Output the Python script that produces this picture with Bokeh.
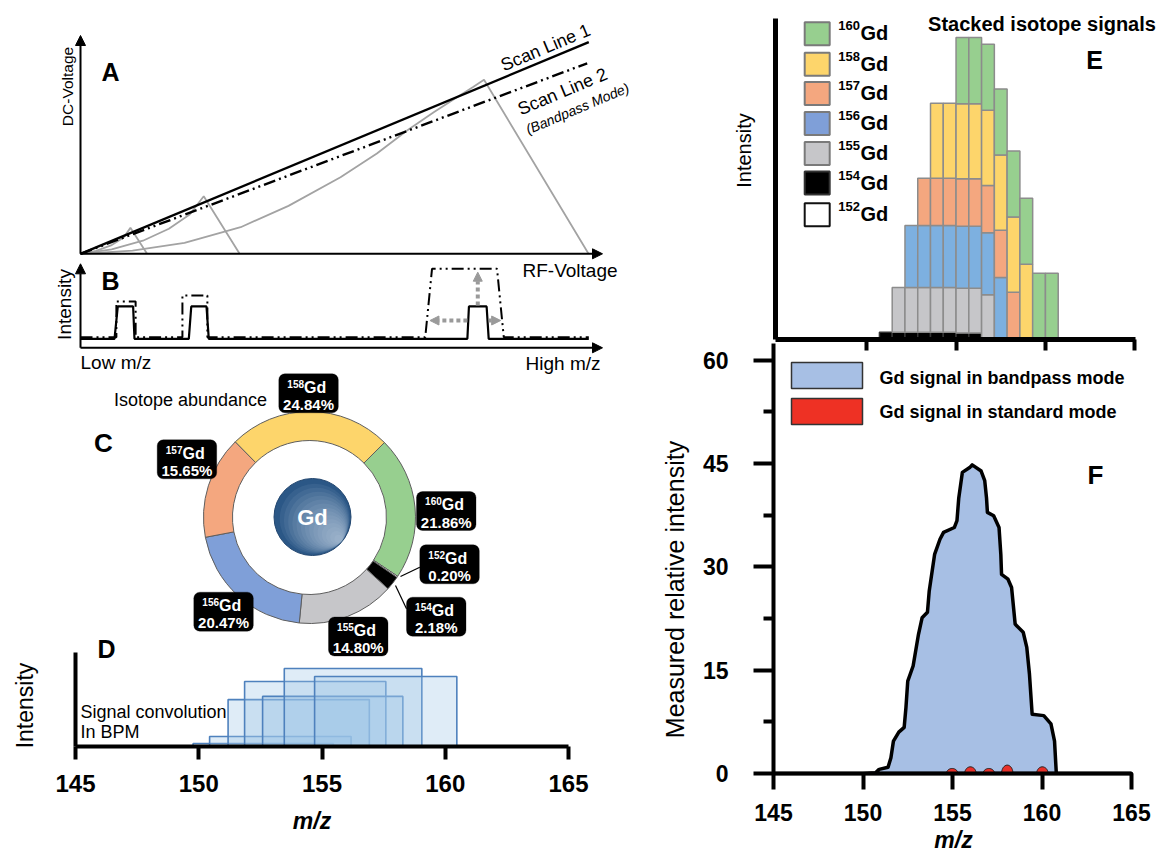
import numpy as np
from bokeh.plotting import figure
from bokeh.layouts import row
from bokeh.models import (Range1d, FixedTicker, Label, Arrow, NormalHead, BoxAnnotation,
                          LinearAxis)
from bokeh.embed import file_html
from bokeh.resources import INLINE

FONT = "Liberation Sans"

# ---------------- data ----------------
iso_label = ["152", "154", "155", "156", "157", "158", "160"]
iso_mass = [152, 154, 155, 156, 157, 158, 160]
iso_abund = [0.20, 2.18, 14.80, 20.47, 15.65, 24.84, 21.86]
ring_color = ["#FFFFFF", "#000000", "#C6C6C9", "#7F9FD8", "#F4A77F", "#FDD56B", "#97CF8F"]
bar_color = ["#FFFFFF", "#000000", "#C6C6C9", "#7DB0E0", "#F4A77F", "#FDD56B", "#97CF8F"]
ring_order = ["160", "152", "154", "155", "156", "157", "158"]   # clockwise from 45 deg

# Panel A (RF-voltage vs DC-voltage, schematic units 0-100)
scan1_x = [0, 97.75]
scan1_y = [0, 97.1]
scan2_x = [0, 97.44]
scan2_y = [0, 87.4]
stab_big_x = [0, 10, 20, 30.8, 40, 50, 57, 62.8, 68, 72.4, 75.5, 77.6, 97.7]
stab_big_y = [0, 1.5, 5.0, 12.2, 22, 35.1, 46, 56.6, 65, 71.8, 76.5, 79.8, 0]
stab_mid_x = [0, 6, 12, 17, 21, 23.7, 30.6]
stab_mid_y = [0, 2, 6, 11.5, 18, 26.4, 0]
stab_small_x = [0, 3, 6, 8.3, 9.6, 12.8]
stab_small_y = [0, 1.3, 4, 7.5, 11.9, 0]

# Panel B (m/z axis schematic 0-100, intensity 0-100)
b_std_x = [0, 6.54, 7.17, 10.12, 10.38, 20.83, 21.3, 24.23, 24.67, 74.4, 74.7, 78.1, 78.5, 97.75]
b_std_y = [10.7, 10.7, 49.2, 49.2, 10.7, 10.7, 49.2, 49.2, 10.7, 10.7, 49.2, 49.2, 10.7, 10.7]
b_bpm_x = [0, 6.9, 6.9, 10.6, 10.6, 19.6, 19.6, 24.4, 24.4, 66.3, 67.6, 80.1, 81.4, 97.75]
b_bpm_y = [12.6, 12.6, 55.1, 55.1, 12.6, 12.6, 62.3, 62.3, 12.6, 12.6, 94, 94, 12.6, 12.6]

# Panel D (bandpass windows of each isotope)
d_left = [149.77, 150.44, 151.19, 151.86, 152.59, 153.47, 154.70]
d_right = [155.46, 156.18, 156.92, 157.59, 158.28, 159.05, 160.47]
d_height = [0.95, 3.15, 14.8, 20.5, 15.8, 24.6, 22.1]
d_xticks = [145, 150, 155, 160, 165]

# Panel E (stacked channels, each isotope spans 8 channels)
e_start = [148, 150, 151, 152, 153, 154, 156]
e_span = 8
e_ticks = [149, 156, 163, 170]

# Panel F
f_x = [145, 150.0, 150.7, 150.9, 151.4, 151.56, 151.7, 152.0, 152.3, 152.4, 152.5, 152.8,
       153.1, 153.3, 153.6, 153.7, 154.0, 154.3, 154.5, 155.1, 155.25, 155.35, 155.55,
       155.96, 156.1, 156.6, 156.8, 156.9, 156.95, 157.3, 157.6, 157.7, 157.74, 158.1,
       158.3, 158.5, 158.6, 158.95, 159.15, 159.3, 159.45, 160.1, 160.5, 160.7, 160.8, 165]
f_y = [0, 0, 0.1, 0.6, 0.9, 2.3, 4.7, 6.0, 6.7, 9.6, 13.4, 15.6,
       20.2, 22.6, 23.4, 26.5, 31.8, 34.0, 35.0, 35.7, 36.7, 40.0, 43.7,
       44.4, 44.8, 43.9, 42.5, 40.0, 37.9, 37.4, 35.7, 31.8, 28.9, 28.2,
       27.0, 21.7, 21.4, 20.5, 18.3, 14.4, 8.6, 8.4, 7.2, 4.7, 0, 0]
red_x = [154.98, 156.0, 157.03, 158.06, 160.02]
red_h = [0.73, 0.97, 0.73, 1.22, 0.97]
f_xticks = [145, 150, 155, 160, 165]
f_yticks = [0, 15, 30, 45, 60]
f_yminor = [7.5, 22.5, 37.5, 52.5]


# ---------------- helpers ----------------
def base_fig(w, h, xr, yr, xloc=None, yloc=None):
    p = figure(width=w, height=h, x_range=xr, y_range=yr, output_backend="svg",
               toolbar_location=None, x_axis_location=xloc, y_axis_location=yloc,
               min_border=0)
    p.outline_line_color = None
    for g in p.grid:
        g.visible = False
    p.background_fill_color = "white"
    p.border_fill_color = "white"
    return p


def lab(p, x, y, text, size, style="normal", color="black", align="center",
        baseline="middle", angle=0.0):
    p.add_layout(Label(x=x, y=y, text=text, x_range_name="px", y_range_name="py",
                       text_font=FONT, text_font_size=f"{size}px", text_font_style=style,
                       text_color=color, text_align=align, text_baseline=baseline,
                       angle=angle))


def arrow(p, x0, y0, x1, y1, yname, color="black", width=2, dash="solid", size=10):
    p.add_layout(Arrow(end=NormalHead(size=size, fill_color=color, line_color=color),
                       x_start=x0, y_start=y0, x_end=x1, y_end=y1, line_color=color,
                       line_width=width, line_dash=dash, x_range_name="ax",
                       y_range_name=yname))


def style_axis(ax, lw, tick_out, size, standoff, loc, bounds, labels=True):
    ax.fixed_location = loc
    ax.bounds = bounds
    ax.axis_line_width = lw
    ax.axis_line_color = "black"
    ax.major_tick_line_width = lw
    ax.major_tick_line_color = "black"
    ax.major_tick_out = tick_out
    ax.major_tick_in = 0
    ax.minor_tick_line_color = None
    ax.major_label_text_font = FONT
    ax.major_label_text_font_style = "bold"
    ax.major_label_text_color = "black" if labels else None
    ax.major_label_text_font_size = f"{size}px"
    ax.major_label_standoff = standoff


# ================= Left column: panels A, B, C, D  (canvas 640 x 854) =================
def u(px):
    return (px - 80) / 5.2


def dc(py):
    return (253.3 - py) / 2.18


def bi(py):
    return (347.3 - py) / 0.84


def dm(px):
    return 145 + (px - 75) / 24.65


def di(py):
    return (746 - py) / 3.17


pL = base_fig(640, 854, Range1d(dm(0), dm(640)), Range1d(di(854), di(0)),
              xloc="below", yloc="left")
pL.extra_x_ranges = {"px": Range1d(0, 640), "ax": Range1d(u(0), u(640)),
                     "cx": Range1d(0 - 309, 640 - 309)}
pL.extra_y_ranges = {"py": Range1d(854, 0), "ay": Range1d(dc(854), dc(0)),
                     "b": Range1d(bi(854), bi(0)), "cy": Range1d(517 - 854, 517 - 0)}

# ---- A ----
gray = "#A3A3A3"
for xs, ys in [(stab_big_x, stab_big_y), (stab_mid_x, stab_mid_y), (stab_small_x, stab_small_y)]:
    pL.line(xs, ys, line_color=gray, line_width=1.8, x_range_name="ax", y_range_name="ay")
pL.line(scan2_x, scan2_y, line_color="black", line_width=2.4, line_dash="12 4 2 4 2 4",
        x_range_name="ax", y_range_name="ay")
pL.line(scan1_x, scan1_y, line_color="black", line_width=2.4,
        x_range_name="ax", y_range_name="ay")
arrow(pL, 0, 0, u(602), 0, "ay")
arrow(pL, 0, 0, 0, dc(35), "ay")

# ---- B ----
pL.line(b_bpm_x, b_bpm_y, line_color="black", line_width=2, line_dash="12 4 2 4 2 4",
        x_range_name="ax", y_range_name="b")
pL.line(b_std_x, b_std_y, line_color="black", line_width=2.2,
        x_range_name="ax", y_range_name="b")
arrow(pL, 0, 0, u(602), 0, "b")
arrow(pL, 0, 0, 0, 100, "b")
ag = "#9A9A9A"
arrow(pL, 76.4, 50.4, 76.4, 90, "b", color=ag, width=4, dash="4 3", size=9)
arrow(pL, 74.4, 32.5, 67.2, 32.5, "b", color=ag, width=4, dash="4 3", size=9)
arrow(pL, 78.5, 32.5, 80.8, 32.5, "b", color=ag, width=4, dash="4 3", size=9)

lab(pL, 110, 71, "A", 25, "bold")
lab(pL, 66.5, 86, "DC-Voltage", 15.5, angle=np.pi / 2)
lab(pL, 569.5, 269.5, "RF-Voltage", 19)
lab(pL, 545, 47, "Scan Line 1", 18, angle=0.40)
lab(pL, 562, 91, "Scan Line 2", 18, angle=0.40)
lab(pL, 577, 108, "(Bandpass Mode)", 14, "italic", angle=0.40)
lab(pL, 110, 280, "B", 25, "bold")
lab(pL, 63.5, 304, "Intensity", 19, angle=np.pi / 2)
lab(pL, 80, 362, "Low m/z", 19, align="left")
lab(pL, 600, 363, "High m/z", 19, align="right")

# ---- D axes ----
xd = pL.xaxis[0]
style_axis(xd, 4, 13, 24, 15, 0, (145, 165))
xd.ticker = FixedTicker(ticks=d_xticks)
yd = pL.yaxis[0]
style_axis(yd, 4, 0, 12, 0, 145, (0, di(652)), labels=False)
yd.ticker = FixedTicker(ticks=[])

pL.quad(left=d_left, right=d_right, bottom=0, top=d_height, fill_color="#9DC3E6",
        fill_alpha=0.32, line_color="#4E81BD", line_width=1.6)

# ---- C donut ----
ring_ab = [iso_abund[iso_label.index(k)] for k in ring_order]
ring_col = [ring_color[iso_label.index(k)] for k in ring_order]
starts, ends = [], []
a = np.pi / 4
for v in ring_ab:
    starts.append(a)
    a -= v / 100 * 2 * np.pi
    ends.append(a)
pL.annular_wedge(x=0, y=0, inner_radius=77, outer_radius=106, start_angle=starts,
                 end_angle=ends, direction="clock", fill_color=ring_col,
                 line_color="#5E5E5E", line_width=1, x_range_name="cx", y_range_name="cy")
bx0, by0, R = 3, 0.5, 38.5
pL.circle(x=bx0, y=by0, radius=R, fill_color="#2B5786", line_color="#234770", line_width=1,
          x_range_name="cx", y_range_name="cy")
dvec = np.array([np.cos(-0.7), np.sin(-0.7)])
for r in np.linspace(35, 4, 14):
    cxy = np.array([bx0, by0]) + (R - r - 0.6) * dvec
    pL.circle(x=cxy[0], y=cxy[1], radius=r, fill_color="#DCE7F3", fill_alpha=0.075,
              line_color=None, x_range_name="cx", y_range_name="cy")

pL.line([419.3, 400], [566.7, 576], line_color="black", line_width=1.2,
        x_range_name="px", y_range_name="py")
pL.line([406, 395], [608.3, 585], line_color="black", line_width=1.2,
        x_range_name="px", y_range_name="py")

box_pos = {"158": (278.3, 373.3), "157": (156.7, 439.3), "160": (416, 491),
           "152": (419.3, 544.3), "154": (406, 596.7), "156": (193.3, 591.7),
           "155": (328, 616.5)}
BW, BH = 59.5, 39
for k, (bx, by) in box_pos.items():
    pL.add_layout(BoxAnnotation(left=bx, right=bx + BW, top=by, bottom=by + BH,
                                x_range_name="px", y_range_name="py", fill_color="black",
                                fill_alpha=1, line_color="black", border_radius=6))
for k, (bx, by) in box_pos.items():
    ab = iso_abund[iso_label.index(k)]
    cx = bx + BW / 2 - 4.5
    lab(pL, cx, by + 9.7, k, 10, "bold", "white", align="right")
    lab(pL, cx, by + 13.2, "Gd", 16, "bold", "white", align="left")
    lab(pL, bx + BW / 2, by + 30.5, f"{ab:.2f}%", 15, "bold", "white")

lab(pL, 312, 517, "Gd", 22, "bold", "white")
lab(pL, 103, 442, "C", 26, "bold")
lab(pL, 190, 399, "Isotope abundance", 18)
lab(pL, 106, 648, "D", 25, "bold")
lab(pL, 24, 705, "Intensity", 23, angle=np.pi / 2)
lab(pL, 80, 711, "Signal convolution", 18, align="left")
lab(pL, 80, 731, "In BPM", 18, align="left")
lab(pL, 311.5, 820, "m/z", 23, "bold italic")


# ================= Right column: panels E + F  (canvas x 640..1166, y 0..854) =================
def ch(px):
    return 151 + (px - 891.7) / 12.77


def ei(py):
    return (339 - py) / 3.025


def fm(px):
    return 145 + (px - 773) / 17.9


def fi(py):
    return (773 - py) / 6.89


pEF = base_fig(526, 854, Range1d(fm(640), fm(1166)), Range1d(fi(854), fi(0)),
               xloc="below", yloc="left")
pEF.extra_x_ranges = {"px": Range1d(640, 1166), "ex": Range1d(ch(640), ch(1166))}
pEF.extra_y_ranges = {"py": Range1d(854, 0), "ey": Range1d(ei(854), ei(0))}

xe = LinearAxis(x_range_name="ex", y_range_name="ey")
pEF.add_layout(xe, "below")
style_axis(xe, 5, 11, 12, 0, 0, (ch(775), ch(1135)), labels=False)
xe.major_tick_line_width = 4
xe.ticker = FixedTicker(ticks=e_ticks)
ye = LinearAxis(x_range_name="ex", y_range_name="ey")
pEF.add_layout(ye, "left")
style_axis(ye, 5, 0, 12, 0, ch(775), (0, ei(18.3)), labels=False)
ye.ticker = FixedTicker(ticks=[])

el, er, eb, et, ec, elc = [], [], [], [], [], []
for i in range(len(iso_mass)):
    for c in range(e_start[i], e_start[i] + e_span):
        base = sum(iso_abund[j] for j in range(i) if e_start[j] <= c < e_start[j] + e_span)
        el.append(c)
        er.append(c + 1)
        eb.append(base)
        et.append(base + iso_abund[i])
        ec.append(bar_color[i])
        elc.append("#333333" if i < 2 else "#8C8C8C")
pEF.quad(left=el, right=er, bottom=eb, top=et, fill_color=ec, line_color=elc, line_width=1.5,
         x_range_name="ex", y_range_name="ey")

leg_rows = ["160", "158", "157", "156", "155", "154", "152"]
leg_y = [33.3, 63.7, 93.0, 123.0, 153.0, 182.5, 214.2]
leg_col = ["#97CF8F", "#FDD56B", "#F4A77F", "#7F9FD8", "#C6C6C9", "#000000", "#FFFFFF"]
pEF.rect(x=[816.7] * 7, y=leg_y, width=25, height=23, fill_color=leg_col,
         line_color=["#7A7A7A"] * 5 + ["#333333", "#111111"], line_width=2,
         x_range_name="px", y_range_name="py")
for k, yy in zip(leg_rows, leg_y):
    lab(pEF, 859.5, yy - 8, k, 13, "bold", align="right")
    lab(pEF, 860, yy - 0.5, "Gd", 20, "bold", align="left")
lab(pEF, 1041.5, 23, "Stacked isotope signals", 20, "bold")
lab(pEF, 1094, 59, "E", 25, "bold")
lab(pEF, 743, 150, "Intensity", 20, angle=np.pi / 2)

xf = pEF.xaxis[0]
style_axis(xf, 4, 16, 23, 14, 0, (145, 165))
xf.ticker = FixedTicker(ticks=f_xticks)
yf = pEF.yaxis[0]
style_axis(yf, 4, 20, 23, 25, 145, (0, fi(343)))
yf.ticker = FixedTicker(ticks=f_yticks, minor_ticks=f_yminor)
yf.minor_tick_line_color = "black"
yf.minor_tick_line_width = 4
yf.minor_tick_out = 10
yf.minor_tick_in = 0

pEF.patch(f_x, f_y, fill_color="#A7BFE4", line_color="black", line_width=3.5,
          line_join="round")
t = np.linspace(0, np.pi, 20)
bump_xs = [list(m + 0.32 * np.cos(t)) for m in red_x]
bump_ys = [list(h * np.sin(t)) for h in red_h]
pEF.patches(bump_xs, bump_ys, fill_color="#E8302A", line_color="#222222", line_width=1)

pEF.rect(x=[826.5, 826.5], y=[375, 411], width=71, height=26,
         fill_color=["#A7BFE4", "#EE3124"], line_color="#333333", line_width=1.5,
         x_range_name="px", y_range_name="py")
lab(pEF, 879, 377, "Gd signal in bandpass mode", 18, "bold", align="left")
lab(pEF, 879, 411, "Gd signal in standard mode", 18, "bold", align="left")
lab(pEF, 1095, 474, "F", 26, "bold")
lab(pEF, 674, 589, "Measured relative intensity", 25, angle=np.pi / 2)
lab(pEF, 953, 839, "m/z", 23, "bold italic")

layout = row(pL, pEF)
open("out.html", "w").write(file_html(layout, INLINE))
